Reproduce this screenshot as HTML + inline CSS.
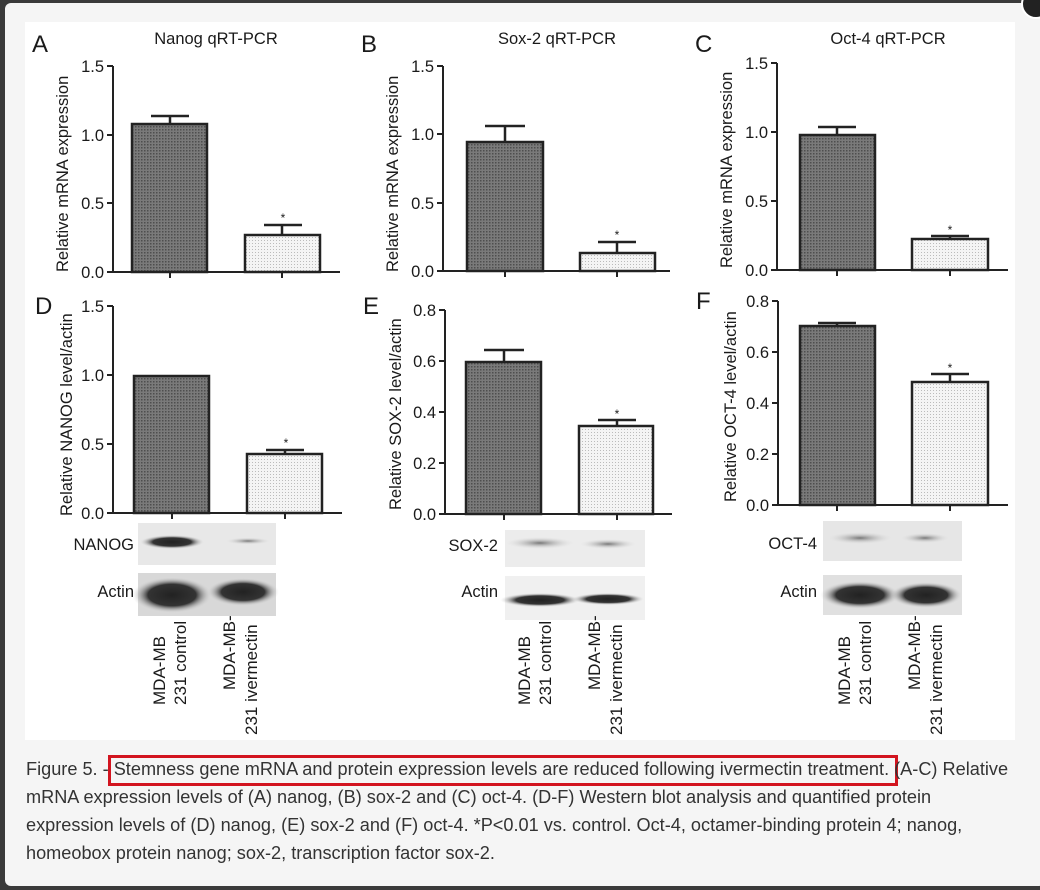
<!DOCTYPE html>
<html><head><meta charset="utf-8"><style>
html,body{margin:0;padding:0;width:1040px;height:890px;overflow:hidden;background:#3a3a3a}
#modal{position:absolute;left:5px;top:3px;width:1040px;height:883px;background:#f5f5f5;border-radius:6px}
#fig{position:absolute;left:25px;top:22px;width:990px;height:718px;background:#fff}
#cap{position:absolute;left:26px;top:755px;width:990px;font:18.15px/28px "Liberation Sans",sans-serif;color:#333}
#box{position:absolute;left:108px;top:755px;width:784px;height:25px;border:3px solid #d2141f}
svg text{font-family:"Liberation Sans",sans-serif;fill:#1a1a1a}
</style></head><body>
<div id="modal"></div>
<div id="fig"></div>
<svg width="1040" height="890" style="position:absolute;left:0;top:0">
<defs>
<pattern id="dk" width="3" height="3" patternUnits="userSpaceOnUse"><rect width="3" height="3" fill="#7a7a7a"/><rect width="1.5" height="1.5" fill="#4e4e4e"/></pattern>
<pattern id="lt" width="3" height="3" patternUnits="userSpaceOnUse"><rect width="3" height="3" fill="#f4f4f4"/><rect width="1" height="1" fill="#bbb"/></pattern>
<radialGradient id="band"><stop offset="0" stop-color="#222"/><stop offset="0.6" stop-color="#333"/><stop offset="1" stop-color="#ddd" stop-opacity="0"/></radialGradient>
<radialGradient id="fband"><stop offset="0" stop-color="#777"/><stop offset="1" stop-color="#ddd" stop-opacity="0"/></radialGradient>
</defs>
<g stroke="#222" stroke-width="2" fill="none">
<path d="M113,272V66M107,66h6M107,135h6M107,203h6M107,272h6M113,272H340M170,272v6M282,272v6"/>
<path d="M443,271V66M437,66h6M437,134h6M437,203h6M437,271h6M443,271H670M505,271v6M617,271v6"/>
<path d="M777,270V63M771,63h6M771,132h6M771,201h6M771,270h6M777,270H1008M837,270v6M950,270v6"/>
<path d="M113,513V306M107,306h6M107,375h6M107,444h6M107,513h6M113,513H342M172,513v6M285,513v6"/>
<path d="M445,514V310M439,310h6M439,361h6M439,412h6M439,463h6M439,514h6M445,514H672M504,514v6M617,514v6"/>
<path d="M778,505V301M772,301h6M772,352h6M772,403h6M772,454h6M772,505h6M778,505H1008M837,505v6M950,505v6"/>
</g>
<g stroke="#222" stroke-width="2.5">
<rect x="132" y="124" width="75" height="148" fill="url(#dk)"/>
<rect x="245" y="235" width="75" height="37" fill="url(#lt)"/>
<rect x="467" y="142" width="76" height="129" fill="url(#dk)"/>
<rect x="580" y="253" width="75" height="18" fill="url(#lt)"/>
<rect x="800" y="135" width="75" height="135" fill="url(#dk)"/>
<rect x="912" y="239" width="76" height="31" fill="url(#lt)"/>
<rect x="134" y="376" width="75" height="137" fill="url(#dk)"/>
<rect x="247" y="454" width="75" height="59" fill="url(#lt)"/>
<rect x="466" y="362" width="75" height="152" fill="url(#dk)"/>
<rect x="579" y="426" width="74" height="88" fill="url(#lt)"/>
<rect x="800" y="326" width="75" height="179" fill="url(#dk)"/>
<rect x="912" y="382" width="76" height="123" fill="url(#lt)"/>
</g>
<g stroke="#222" stroke-width="2.5" fill="none">
<path d="M170,124V116M151,116h38M282,235V225M264,225h38"/>
<path d="M505,142V126M485,126h40M617,253V242M598,242h38"/>
<path d="M837,135V127M818,127h38M950,239V236M931,236h38"/>
<path d="M285,454V450M266,450h38"/>
<path d="M504,362V350M484,350h40M617,426V420M598,420h38"/>
<path d="M837,326V323M818,323h38M950,382V374M931,374h38"/>
</g>
<g font-size="12" text-anchor="middle"><text x="283" y="222">*</text><text x="617" y="239">*</text><text x="950" y="234">*</text><text x="286" y="447">*</text><text x="617" y="418">*</text><text x="950" y="372">*</text></g>
<g font-size="16.5" text-anchor="end">
<text x="104" y="72">1.5</text><text x="104" y="141">1.0</text><text x="104" y="209">0.5</text><text x="104" y="278">0.0</text>
<text x="434" y="72">1.5</text><text x="434" y="140">1.0</text><text x="434" y="209">0.5</text><text x="434" y="277">0.0</text>
<text x="768" y="69">1.5</text><text x="768" y="138">1.0</text><text x="768" y="207">0.5</text><text x="768" y="276">0.0</text>
<text x="104" y="312">1.5</text><text x="104" y="381">1.0</text><text x="104" y="450">0.5</text><text x="104" y="519">0.0</text>
<text x="436" y="316">0.8</text><text x="436" y="367">0.6</text><text x="436" y="418">0.4</text><text x="436" y="469">0.2</text><text x="436" y="520">0.0</text>
<text x="769" y="307">0.8</text><text x="769" y="358">0.6</text><text x="769" y="409">0.4</text><text x="769" y="460">0.2</text><text x="769" y="511">0.0</text>
</g>
<g font-size="16.5">
<text transform="translate(68,272) rotate(-90)">Relative mRNA expression</text>
<text transform="translate(398,272) rotate(-90)">Relative mRNA expression</text>
<text transform="translate(732,268) rotate(-90)">Relative mRNA expression</text>
<text transform="translate(72,516) rotate(-90)">Relative NANOG level/actin</text>
<text transform="translate(401,510) rotate(-90)">Relative SOX-2 level/actin</text>
<text transform="translate(736,502) rotate(-90)">Relative OCT-4  level/actin</text>
</g>
<g font-size="16.5" text-anchor="middle">
<text x="216" y="44">Nanog qRT-PCR</text><text x="557" y="44">Sox-2 qRT-PCR</text><text x="888" y="44">Oct-4 qRT-PCR</text>
</g>
<g font-size="24"><text x="32" y="52">A</text><text x="361" y="52">B</text><text x="695" y="52">C</text><text x="35" y="314">D</text><text x="363" y="314">E</text><text x="696" y="309">F</text></g>
<rect x="138" y="523" width="138" height="42" fill="#e8e8e8"/>
<ellipse cx="172" cy="542" rx="32" ry="7" fill="url(#band)"/><ellipse cx="248" cy="541" rx="22" ry="3.5" fill="url(#fband)"/>
<rect x="138" y="573" width="138" height="43" fill="#d8d8d8"/>
<ellipse cx="172" cy="595" rx="40" ry="18" fill="url(#band)"/><ellipse cx="243" cy="592" rx="36" ry="14" fill="url(#band)"/>
<rect x="505" y="530" width="140" height="37" fill="#ececec"/>
<ellipse cx="540" cy="543" rx="34" ry="6" fill="url(#fband)"/><ellipse cx="608" cy="544" rx="28" ry="5" fill="url(#fband)"/>
<rect x="505" y="576" width="140" height="44" fill="#f0f0f0"/>
<ellipse cx="540" cy="600" rx="40" ry="7" fill="url(#band)"/><ellipse cx="608" cy="599" rx="36" ry="6" fill="url(#band)"/>
<rect x="823" y="521" width="139" height="40" fill="#e6e6e6"/>
<ellipse cx="860" cy="538" rx="32" ry="6" fill="url(#fband)"/><ellipse cx="925" cy="538" rx="24" ry="5" fill="url(#fband)"/>
<rect x="823" y="575" width="139" height="40" fill="#e0e0e0"/>
<ellipse cx="860" cy="595" rx="40" ry="14" fill="url(#band)"/><ellipse cx="926" cy="595" rx="36" ry="13" fill="url(#band)"/>
<g font-size="16.5" text-anchor="end">
<text x="134" y="550">NANOG</text><text x="134" y="597">Actin</text>
<text x="498" y="551">SOX-2</text><text x="498" y="597">Actin</text>
<text x="817" y="549">OCT-4</text><text x="817" y="597">Actin</text>
</g>
<g font-size="17">
<text transform="translate(165,705) rotate(-90)">MDA-MB</text><text transform="translate(186,705) rotate(-90)">231 control</text>
<text transform="translate(235,690) rotate(-90)">MDA-MB-</text><text transform="translate(257,735) rotate(-90)">231 ivermectin</text>
<text transform="translate(530,705) rotate(-90)">MDA-MB</text><text transform="translate(551,705) rotate(-90)">231 control</text>
<text transform="translate(600,690) rotate(-90)">MDA-MB-</text><text transform="translate(622,735) rotate(-90)">231 ivermectin</text>
<text transform="translate(850,705) rotate(-90)">MDA-MB</text><text transform="translate(871,705) rotate(-90)">231 control</text>
<text transform="translate(920,690) rotate(-90)">MDA-MB-</text><text transform="translate(942,735) rotate(-90)">231 ivermectin</text>
</g>
<circle cx="1036" cy="4" r="14" fill="#222" stroke="#fff" stroke-width="2"/>
</svg>
<div id="box"></div>
<div id="cap">Figure 5. - Stemness gene mRNA and protein expression levels are reduced following ivermectin treatment. (A-C) Relative mRNA expression levels of (A) nanog, (B) sox-2 and (C) oct-4. (D-F) Western blot analysis and quantified protein expression levels of (D) nanog, (E) sox-2 and (F) oct-4. *P&lt;0.01 vs. control. Oct-4, octamer-binding protein 4; nanog, homeobox protein nanog; sox-2, transcription factor sox-2.</div>
</body></html>
